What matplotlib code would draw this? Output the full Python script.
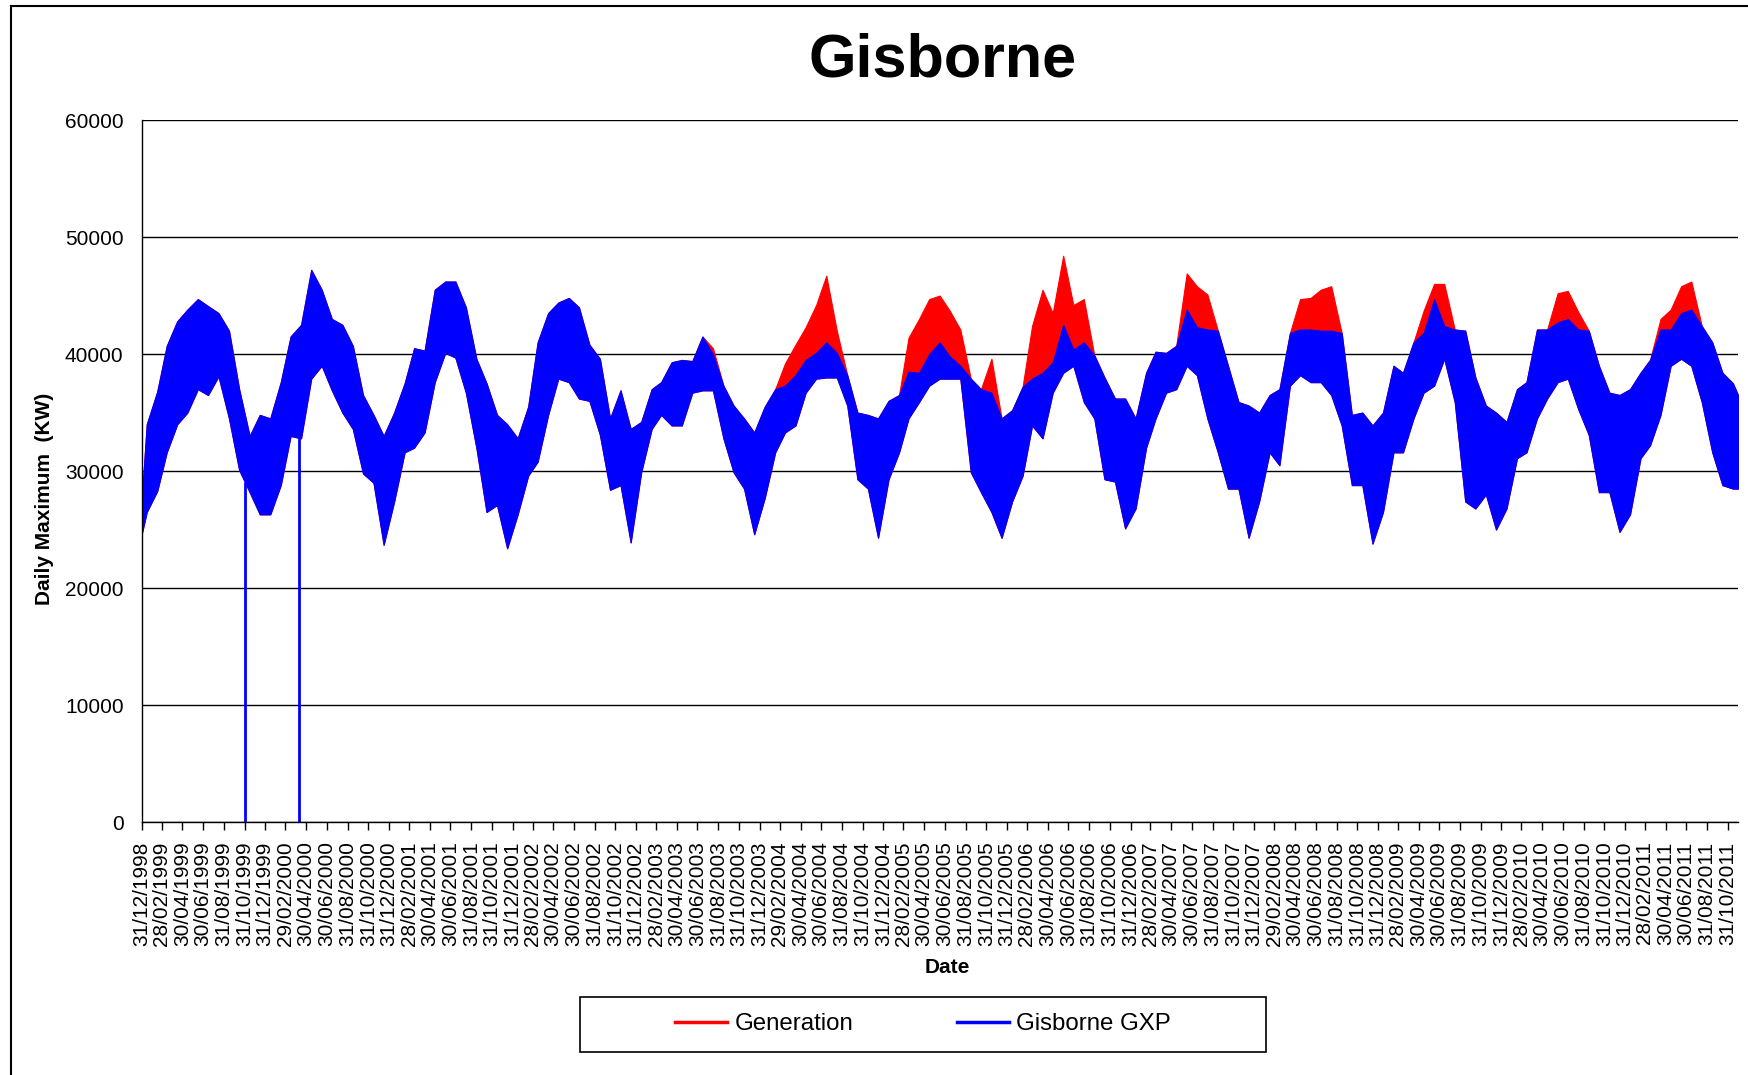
import numpy as np
import pandas as pd
import matplotlib
matplotlib.use('Agg')
import matplotlib.pyplot as plt
import matplotlib.dates as mdates
from matplotlib.lines import Line2D
from matplotlib.patches import Rectangle

plt.rcParams['font.family'] = ['Liberation Sans', 'DejaVu Sans']

# monthly envelope of the daily maxima, Jan 1999 .. Nov 2011 (kW)
gxp_high = [
    34000, 36800, 40700, 42800, 43800, 44700, 44100, 43500, 42000, 37000, 33000, 34800,  # 1999
    34500, 37600, 41500, 42500, 47200, 45500, 43000, 42500, 40700, 36500, 34800, 33000,  # 2000
    35000, 37500, 40500, 40300, 45500, 46200, 46200, 44000, 39600, 37500, 34800, 34000,  # 2001
    32800, 35500, 41000, 43500, 44400, 44800, 44000, 40800, 39600, 34500, 36900, 33600,  # 2002
    34200, 37000, 37600, 39300, 39500, 39400, 41500, 40000, 37300, 35600, 34500, 33300,  # 2003
    35500, 37000, 37300, 38200, 39500, 40100, 41000, 40100, 38200, 35000, 34800, 34500,  # 2004
    36000, 36500, 38500, 38400, 40000, 41000, 39800, 39000, 37900, 37000, 36700, 34500,  # 2005
    35200, 37200, 37900, 38400, 39300, 42500, 40400, 41000, 39900, 38000, 36200, 36200,  # 2006
    34500, 38400, 40200, 40100, 40700, 43800, 42300, 42100, 42000, 39000, 35900, 35600,  # 2007
    35000, 36500, 37000, 41800, 42100, 42100, 42000, 42000, 41800, 34800, 35000, 33900,  # 2008
    35000, 39000, 38400, 41000, 41800, 44700, 42400, 42100, 42000, 38000, 35600, 35000,  # 2009
    34200, 37000, 37600, 42100, 42100, 42700, 43000, 42100, 42000, 39000, 36700, 36500,  # 2010
    37000, 38400, 39500, 42100, 42100, 43500, 43800, 42400, 41000, 38400, 37500,         # 2011
]
gxp_low = [
    26500, 28300, 31600, 34000, 35000, 37000, 36500, 38100, 34500, 30100, 28200, 26300,
    26300, 28800, 33000, 32800, 37900, 39000, 36900, 35000, 33600, 29800, 29000, 23700,
    27400, 31600, 32000, 33300, 37600, 40100, 39700, 36700, 32000, 26500, 27100, 23400,
    26300, 29600, 30800, 34800, 37900, 37600, 36200, 36000, 33100, 28400, 28800, 23900,
    29900, 33600, 34800, 33900, 33900, 36700, 36900, 36900, 32800, 29900, 28500, 24600,
    27700, 31600, 33300, 33900, 36700, 37900, 38000, 38000, 35600, 29300, 28500, 24300,
    29300, 31600, 34500, 35900, 37300, 37900, 37900, 37900, 29900, 28200, 26500, 24300,
    27400, 29600, 33900, 32800, 36700, 38400, 39000, 35900, 34500, 29300, 29100, 25100,
    26800, 32000, 34500, 36700, 37000, 39000, 38200, 34500, 31600, 28500, 28500, 24300,
    27400, 31600, 30500, 37300, 38200, 37600, 37600, 36500, 33900, 28800, 28800, 23800,
    26500, 31600, 31600, 34500, 36700, 37300, 39600, 35900, 27400, 26800, 28000, 25000,
    26800, 31100, 31600, 34500, 36200, 37600, 37900, 35300, 33100, 28200, 28200, 24800,
    26300, 31100, 32200, 34800, 39000, 39600, 39000, 35900, 31600, 28800, 28500,
]
# how far the Generation maximum sits above Gisborne GXP each month (kW)
gen_extra = [
    0, 0, 0, 0, 0, 0, 0, 0, 0, 0, 0, 0,
    0, 0, 0, 0, 0, 0, 0, 0, 0, 0, 0, 0,
    0, 0, 0, 0, 0, 0, 0, 0, 0, 0, 0, 0,
    0, 0, 0, 0, 0, 0, 0, 0, 0, 0, 0, 0,
    0, 0, 0, 0, 0, 0, 0, 500, 0, 0, 0, 0,
    0, 0, 1900, 2600, 2800, 4100, 5700, 1900, 0, 0, 0, 0,
    0, 0, 2900, 4600, 4700, 4000, 3900, 3100, 0, 0, 2900, 0,
    0, 0, 4500, 7100, 4200, 5900, 3800, 3700, 0, 0, 0, 0,
    0, 0, 0, 0, 0, 3100, 3500, 3000, 0, 0, 0, 0,
    0, 0, 0, 0, 2600, 2700, 3500, 3800, 0, 0, 0, 0,
    0, 0, 0, 0, 1900, 1300, 3600, 0, 0, 0, 0, 0,
    0, 0, 0, 0, 0, 2500, 2400, 1500, 0, 0, 0, 0,
    0, 0, 0, 900, 1700, 2300, 2400, 0, 0, 0, 0,
]
first_day, first_low, first_high = '1998-12-31', 24600, 27500
last_day, last_low, last_high = '2011-11-30', 28500, 36500
outage_dates = ['1999-11-01', '2000-04-10']
outage_kw = [0, 0]

months = pd.date_range('1999-01-01', periods=len(gxp_high), freq='MS') + pd.Timedelta(days=14)
x = np.concatenate([[np.datetime64(first_day)], months.values.astype('datetime64[D]'),
                    [np.datetime64(last_day)]])
lo = np.array([first_low] + gxp_low + [last_low], dtype=float)
hi = np.array([first_high] + gxp_high + [last_high], dtype=float)
gen_hi = hi + np.array([0] + gen_extra + [0])

fig = plt.figure(figsize=(17.49, 10.75), dpi=100)
ax = fig.add_axes([0.0810, 0.2353, 0.9127, 0.6530])

ax.fill_between(x, lo, gen_hi, color='#FF0000', lw=0.8)
ax.fill_between(x, lo, hi, color='#0000FF', lw=0.8)
od = np.array(outage_dates, dtype='datetime64[D]')
ax.vlines(od, outage_kw, np.interp(od.astype(float), x.astype(float), lo),
          color='#0000FF', lw=2)

ax.set_ylim(0, 60000)
ax.set_yticks(np.arange(0, 60001, 10000))
ax.set_xlim(np.datetime64('1998-12-31'), np.datetime64('2011-11-30'))
ticks = pd.date_range('1998-12-31', '2011-10-31', freq='2ME')
ax.set_xticks(ticks)
ax.xaxis.set_major_formatter(mdates.DateFormatter('%d/%m/%Y'))
ax.tick_params(axis='x', labelsize=15, rotation=90, length=6, width=1, pad=8)
ax.tick_params(axis='y', labelsize=15, length=0, pad=13)
ax.grid(axis='y', color='black', lw=1)
ax.set_axisbelow(True)
for s in ['top', 'right']:
    ax.spines[s].set_visible(False)
for s in ['left', 'bottom']:
    ax.spines[s].set_linewidth(1)

ax.set_ylabel('Daily Maximum  (KW)', fontsize=15, fontweight='bold', va='center')
ax.yaxis.set_label_coords(-0.0606, 0.46)
ax.set_xlabel('Date', fontsize=15, fontweight='bold', va='center')
ax.xaxis.set_label_coords(0.505, -0.207)

fig.text(0.539, 0.929, 'Gisborne', fontsize=44, fontweight='bold', ha='center', va='baseline')

handles = [Line2D([], [], color='#FF0000', lw=2.5), Line2D([], [], color='#0000FF', lw=2.5)]
fig.legend(handles, ['Generation', 'Gisborne GXP'], loc='center',
           bbox_to_anchor=(923 / 1749, 1 - 1024.5 / 1075), ncol=2, frameon=False,
           fontsize=17.3, handlelength=2.16, handletextpad=0.3, columnspacing=4.3)
fig.add_artist(Rectangle((580 / 1749, 1 - 1052 / 1075), 686 / 1749, 55 / 1075,
                         transform=fig.transFigure, fill=False, ec='black', lw=1.2))

# outer chart border (left and top edges only are visible)
fig.add_artist(Line2D([11 / 1749, 11 / 1749], [0, 1 - 6 / 1075], transform=fig.transFigure,
                      color='black', lw=1.5))
fig.add_artist(Line2D([11 / 1749, 1], [1 - 6 / 1075, 1 - 6 / 1075], transform=fig.transFigure,
                      color='black', lw=1.5))

fig.savefig('out.png', dpi=100)
